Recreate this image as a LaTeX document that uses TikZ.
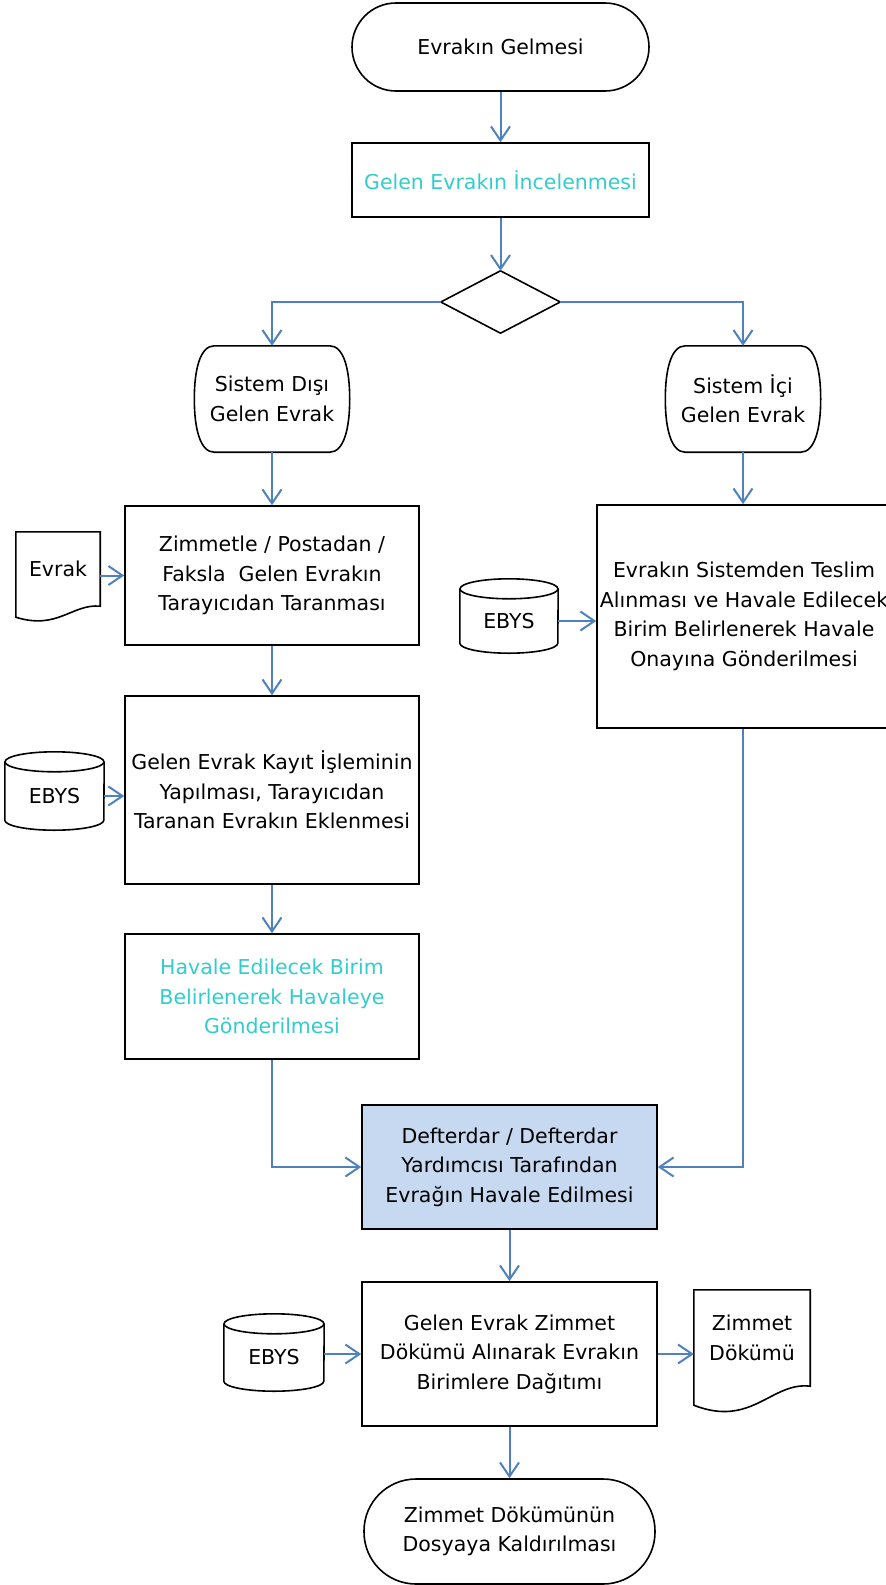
\documentclass[tikz,border=0pt]{standalone}
\usepackage{fontspec}
\setmainfont{DejaVu Sans}
\usetikzlibrary{calc,arrows.meta}
\definecolor{ln}{RGB}{79,129,189}
\definecolor{cy}{RGB}{51,204,204}
\definecolor{fillb}{RGB}{198,217,241}
\newcommand\cylshape[2]{%
 \draw[shp] (#1.north) ellipse [x radius=#2, y radius=10];
 \draw[shp] (#1.north west) -- ($(#1.south west)+(0,-10)$) arc[start angle=180,end angle=0,x radius=#2,y radius=10] -- (#1.north east);}
\newcommand\docshape[3]{%
 \draw[shp] ($(#1.south west)+(0,#3)$) -- (#1.north west) -- (#1.north east) -- (#1.south east) .. controls ($(#1.south east)+(-#2/3,-#3/4)$) and ($(#1.south west)+(#2/2,2.2*#3)$) .. ($(#1.south west)+(0,#3)$) -- cycle;}
\newcommand\delayshape[1]{%
 \draw[shp] ($(#1.north west)+(20,0)$) -- ($(#1.north east)+(-20,0)$) .. controls ($(#1.north east)+(-6,0)$) and ($(#1.east)+(0,-30)$) .. (#1.east) .. controls ($(#1.east)+(0,30)$) and ($(#1.south east)+(-6,0)$) .. ($(#1.south east)+(-20,0)$) -- ($(#1.south west)+(20,0)$) .. controls ($(#1.south west)+(6,0)$) and ($(#1.west)+(0,30)$) .. (#1.west) .. controls ($(#1.west)+(0,-30)$) and ($(#1.north west)+(6,0)$) .. ($(#1.north west)+(20,0)$) -- cycle;}
\begin{document}
\begin{tikzpicture}[x=1pt,y=-1pt,
  shp/.style={draw=black,line width=1.6pt},
  nd/.style={inner sep=0pt,align=center,font=\fontsize{20.5}{29.5}\selectfont},
  rect/.style={nd,shp,rectangle},
  term/.style={nd,shp,rectangle},
  conn/.style={draw=ln,line width=2pt,-{Straight Barb[length=14pt,width=19pt]}}]
\useasboundingbox (0,0) rectangle (886,1585);
\node[term,minimum width=297pt,minimum height=88pt,rounded corners=44pt] (start) at (500.5,47) {Evrakın Gelmesi};
\node[rect,minimum width=297pt,minimum height=74pt,text=cy] (inc) at (500.5,180) {Gelen Evrakın İncelenmesi};
\node[nd,minimum width=119pt,minimum height=62pt] (dia) at (500.5,302) {};
\draw[shp] (dia.north) -- (dia.east) -- (dia.south) -- (dia.west) -- cycle;
\node[nd,minimum width=155pt,minimum height=106pt] (sd) at (272,399) {Sistem Dışı\\Gelen Evrak};
\delayshape{sd}
\node[nd,minimum width=155pt,minimum height=106pt] (si) at (743,399) {Sistem İçi\\Gelen Evrak};
\delayshape{si}
\node[rect,minimum width=294pt,minimum height=139pt] (zim) at (272,575.5) {Zimmetle / Postadan /\\Faksla\ \ Gelen Evrakın\\Tarayıcıdan Taranması};
\node[nd,minimum width=84pt,minimum height=74pt] (evrak) at (58,569) {Evrak};
\docshape{evrak}{84}{11}
\node[rect,minimum width=294pt,minimum height=188pt] (kayit) at (272,790) {Gelen Evrak Kayıt İşleminin\\Yapılması, Tarayıcıdan\\Taranan Evrakın Eklenmesi};
\node[nd,minimum width=99pt,minimum height=68pt] (ebysa) at (54.5,796) {EBYS};
\cylshape{ebysa}{49.5}
\node[rect,minimum width=294pt,minimum height=125pt,text=cy] (havale) at (272,996.5) {Havale Edilecek Birim\\Belirlenerek Havaleye\\Gönderilmesi};
\node[rect,minimum width=294pt,minimum height=223pt] (tes) at (744,616.5) {Evrakın Sistemden Teslim\\Alınması ve Havale Edilecek\\Birim Belirlenerek Havale\\Onayına Gönderilmesi};
\node[nd,minimum width=98pt,minimum height=64pt] (ebysb) at (509,621) {EBYS};
\cylshape{ebysb}{49}
\node[rect,minimum width=295pt,minimum height=124pt,fill=fillb] (def) at (509.5,1167) {Defterdar / Defterdar\\Yardımcısı Tarafından\\Evrağın Havale Edilmesi};
\node[rect,minimum width=295pt,minimum height=144pt] (dist) at (509.5,1354) {Gelen Evrak Zimmet\\Dökümü Alınarak Evrakın\\Birimlere Dağıtımı};
\node[nd,minimum width=100pt,minimum height=67pt] (ebysc) at (274,1357.5) {EBYS};
\cylshape{ebysc}{50}
\node[nd,minimum width=116pt,minimum height=96pt] (zd) at (752,1338) {Zimmet\\Dökümü};
\docshape{zd}{116}{19}
\node[term,minimum width=291pt,minimum height=105pt,rounded corners=52pt] (end) at (509.5,1531.5) {Zimmet Dökümünün\\Dosyaya Kaldırılması};
\draw[conn] (start.south) -- (inc.north);
\draw[conn] (inc.south) -- (dia.north);
\draw[conn] (dia.west) -| (sd.north);
\draw[conn] (dia.east) -| (si.north);
\draw[conn] (sd.south) -- (zim.north);
\draw[conn] (si.south) -- (si.south |- tes.north);
\draw[conn] (zim.west -| evrak.east) -- (zim.west);
\draw[conn] (zim.south) -- (kayit.north);
\draw[conn] (ebysa.east) -- (ebysa.east -| kayit.west);
\draw[conn] (kayit.south) -- (havale.north);
\draw[conn] (ebysb.east) -- (ebysb.east -| tes.west);
\draw[conn] (havale.south) |- (def.west);
\draw[conn] (si.south |- tes.south) |- (def.east);
\draw[conn] (def.south) -- (dist.north);
\draw[conn] (dist.west -| ebysc.east) -- (dist.west);
\draw[conn] (dist.east) -- (dist.east -| zd.west);
\draw[conn] (dist.south) -- (end.north);
\end{tikzpicture}
\end{document}
